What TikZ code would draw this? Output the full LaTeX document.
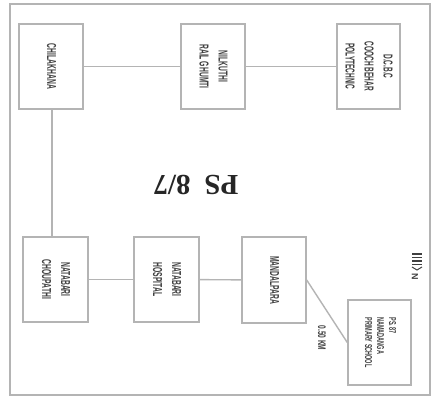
\documentclass[tikz,border=0pt]{standalone}
\usepackage{fontspec}
\setsansfont{Liberation Sans}
\setmainfont{Liberation Serif}
\usepackage{graphicx}
\definecolor{ln}{HTML}{B4B4B4}
\definecolor{tx}{HTML}{404040}
\newcommand{\vtxt}[3]{\rotatebox{-90}{\scalebox{#1}[1]{\begin{tabular}{@{}#2@{}}#3\end{tabular}}}}
\begin{document}
\begin{tikzpicture}[x=1pt,y=-1pt,
  place/.style={draw=ln,line width=1.4pt,rectangle,inner sep=0pt,
    text=tx,font=\sffamily\bfseries\fontsize{13}{19}\selectfont},
  link/.style={draw=ln,line width=1.4pt}]
\useasboundingbox (0,0) rectangle (434,401);
\fill[white] (0,0) rectangle (434,401);
\draw[ln,line width=1.4pt] (10,4) rectangle (430,395);
\node[place,minimum width=64pt,minimum height=85pt] (chi) at (51,66.5) {\vtxt{0.52}{c}{CHILAKHANA}};
\node[place,minimum width=64pt,minimum height=85pt] (nil) at (213,66.5) {\vtxt{0.52}{c}{NILKUTHI\\RAIL GHUMTI}};
\node[place,minimum width=63pt,minimum height=85pt] (dcb) at (368.5,66.5) {\vtxt{0.5}{c}{D.C.B.C\\COOCH BEHAR\\POLYTECHNIC}};
\node[place,minimum width=65pt,minimum height=85pt] (nch) at (55.5,279.5) {\vtxt{0.52}{c}{NATABARI\\CHOUPATHI}};
\node[place,minimum width=65pt,minimum height=85pt] (nho) at (166.5,279.5) {\vtxt{0.52}{c}{NATABARI\\HOSPITAL}};
\node[place,minimum width=64pt,minimum height=86pt] (man) at (274,280) {\vtxt{0.52}{c}{MANDALPARA}};
\node[place,minimum width=63pt,minimum height=85pt,font=\sffamily\bfseries\fontsize{10}{12}\selectfont] (sch) at (379.5,342.5) {\vtxt{0.55}{l}{PS. 87\\NAMADANGA\\PRIMARY SCHOOL}};
\draw[link] (chi) -- (nil);
\draw[link] (nil) -- (dcb);
\draw[link] (chi.south -| 52,0) -- (nch.north -| 52,0);
\draw[link] (nch) -- (nho);
\draw[link] (nho) -- (man);
\draw[link] (man.east) -- (sch.west);
\node[text=tx,font=\sffamily\bfseries\fontsize{11}{11}\selectfont] (km) at (322,338) {\rotatebox{-90}{\scalebox{0.6}[1]{0.50 KM}}};
\node[rotate=180,text=black!85,font=\rmfamily\bfseries\fontsize{29}{29}\selectfont] (ps) at (196,185) {PS\hspace{14pt}8/7};
\foreach \yy in {254,257.5,261,264.5}{\draw[tx,line width=1.6pt] (412,\yy) -- (422,\yy);}
\draw[tx,line width=1pt] (412,267) -- (417,270) -- (422,267);
\node[text=tx,font=\sffamily\bfseries\fontsize{9}{9}\selectfont] (nn) at (415,277) {\rotatebox{-90}{N}};
\end{tikzpicture}
\end{document}
